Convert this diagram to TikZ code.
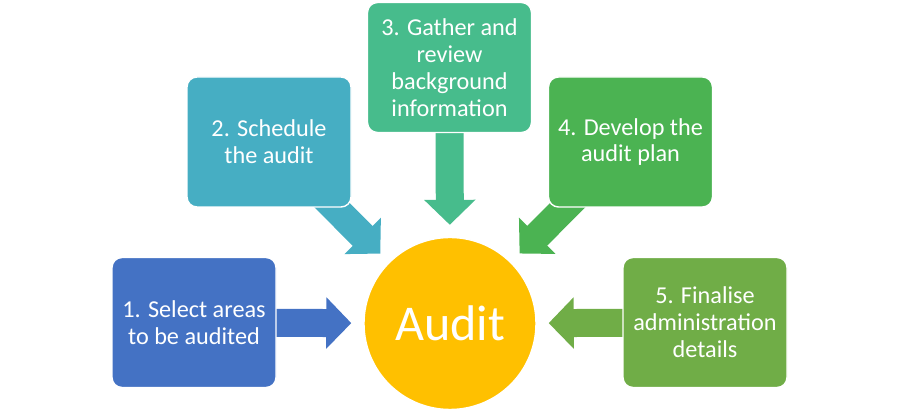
\documentclass[tikz,border=0pt]{standalone}
\usepackage{fontspec}
\setmainfont{Carlito}
\usetikzlibrary{arrows.meta, positioning, calc, backgrounds}
\definecolor{selectblue}{HTML}{4472C4}
\definecolor{scheduleteal}{HTML}{46AEC3}
\definecolor{gathergreen}{HTML}{47BC8C}
\definecolor{plangreen}{HTML}{4BB352}
\definecolor{finaliselime}{HTML}{70AD47}
\definecolor{auditamber}{HTML}{FFC000}

\begin{document}
\begin{tikzpicture}[
    stepbox/.style={draw=white, line width=0.8pt, rounded corners=0.2cm, minimum width=3.28cm, minimum height=2.6cm,
      inner sep=2pt, align=center, text=white, font=\fontsize{13.8}{15.3}\selectfont},
    blockarrow/.style={line width=0.56cm, -{Triangle[width=1cm, length=0.5cm]}, shorten >=0.24cm}
  ]
  \useasboundingbox (0,0) rectangle (18,8.4);

  % Centro
  \node[circle, fill=auditamber, draw=white, line width=0.8pt, minimum size=3.44cm, inner sep=0pt,
    text=white, font=\fontsize{28.5}{34}\selectfont] (audit) at (9.0,1.93) {Audit};

  % Pasos
  \node[stepbox, fill=selectblue] (select) at (3.88,1.95) {1. Select areas\\to be audited};
  \node[stepbox, fill=scheduleteal] (schedule) at (5.38,5.56) {2. Schedule\\the audit};
  \node[stepbox, fill=gathergreen] (gather) at (8.99,7.05) {3. Gather and\\review\\background\\information};
  \node[stepbox, fill=plangreen] (plan) at (12.61,5.56) {4. Develop the\\audit plan};
  \node[stepbox, fill=finaliselime] (finalise) at (14.1,1.95) {5. Finalise\\administration\\details};

  % Flechas
  \begin{scope}[on background layer]
    \draw[blockarrow, selectblue] (select.center) -- (audit);
    \draw[blockarrow, scheduleteal] (schedule.center) -- (audit);
    \draw[blockarrow, gathergreen] (gather.center) -- (audit);
    \draw[blockarrow, plangreen] (plan.center) -- (audit);
    \draw[blockarrow, finaliselime] (finalise.center) -- (audit);
  \end{scope}
\end{tikzpicture}
\end{document}
